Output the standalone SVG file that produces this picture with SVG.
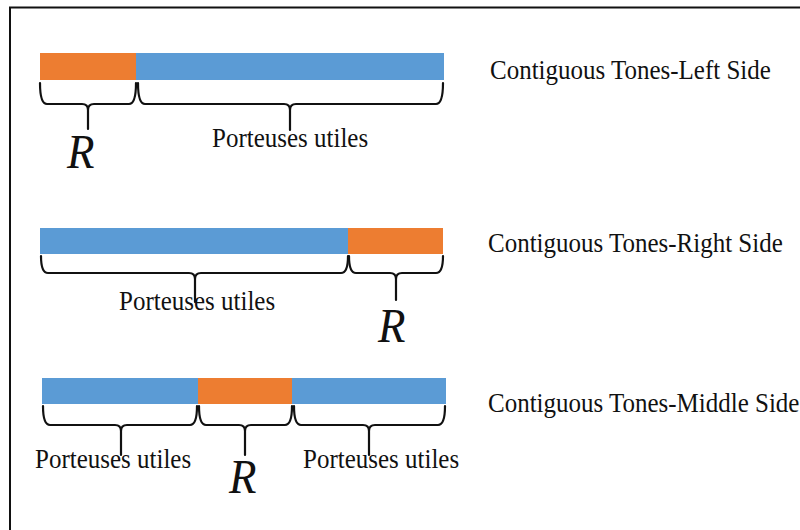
<svg xmlns="http://www.w3.org/2000/svg" width="800" height="530" viewBox="0 0 800 530">
<style>
.or{fill:#ED7D31}
.bl{fill:#5B9BD5}
.br{fill:none;stroke:#111;stroke-width:2.2;stroke-linecap:round;stroke-linejoin:round}
.t{font-family:"Liberation Serif","Times New Roman",serif;font-size:25px;fill:#111}
.r{font-family:"Liberation Serif","Times New Roman",serif;font-size:45px;font-style:italic;fill:#111}
</style>
<rect width="800" height="530" fill="#fff"/>
<path d="M10,530 V7.5 H800" fill="none" stroke="#111" stroke-width="2"/>

<g id="row1">
  <rect class="or" x="40" y="53" width="96" height="27"/>
  <rect class="bl" x="136" y="53" width="308" height="27"/>
  <text class="t" transform="translate(490,79) scale(1,1.09)">Contiguous Tones-Left Side</text>
  <text class="t" transform="translate(212,147) scale(1,1.12)">Porteuses utiles</text>
  <text class="r" transform="translate(67,168) scale(1,1.1)">R</text>
</g>
<g id="row2">
  <rect class="bl" x="40" y="228" width="308" height="26"/>
  <rect class="or" x="348" y="228" width="95" height="26"/>
  <text class="t" transform="translate(488,252) scale(1,1.09)">Contiguous Tones-Right Side</text>
  <text class="t" transform="translate(119,310) scale(1,1.12)">Porteuses utiles</text>
  <text class="r" transform="translate(378,342) scale(1,1.1)">R</text>
</g>
<g id="row3">
  <rect class="bl" x="42" y="378" width="156" height="26"/>
  <rect class="or" x="198" y="378" width="94" height="26"/>
  <rect class="bl" x="292" y="378" width="154" height="26"/>
  <text class="t" transform="translate(488,412) scale(1,1.09)">Contiguous Tones-Middle Side</text>
  <text class="t" transform="translate(35,468) scale(1,1.12)">Porteuses utiles</text>
  <text class="r" transform="translate(229,493) scale(1,1.1)">R</text>
  <text class="t" transform="translate(303,468) scale(1,1.12)">Porteuses utiles</text>
</g>

<g id="connectors">
  <!-- row1 braces -->
  <path class="br" d="M40,83 Q40,104 47,104 H82 Q88,104 88,110 V129 M88,110 Q88,104 94,104 H129 Q136,104 136,83"/>
  <path class="br" d="M138,83 Q138,104 145,104 H284 Q290,104 290,110 V130 M290,110 Q290,104 296,104 H436 Q443,104 443,83"/>
  <!-- row2 braces -->
  <path class="br" d="M41,256 Q41,273 48,273 H189 Q195,273 195,279 V302 M195,279 Q195,273 201,273 H341 Q348,273 348,256"/>
  <path class="br" d="M349,256 Q349,273 356,273 H390 Q396,273 396,279 V300 M396,279 Q396,273 402,273 H436 Q443,273 443,256"/>
  <!-- row3 braces -->
  <path class="br" d="M43,406 Q43,425 50,425 H115 Q121,425 121,431 V455 M121,431 Q121,425 127,425 H190 Q197,425 197,406"/>
  <path class="br" d="M199,406 Q199,425 206,425 H239 Q245,425 245,431 V455 M245,431 Q245,425 251,425 H285 Q292,425 292,406"/>
  <path class="br" d="M294,406 Q294,425 301,425 H363 Q369,425 369,431 V455 M369,431 Q369,425 375,425 H438 Q445,425 445,406"/>
</g>
</svg>
